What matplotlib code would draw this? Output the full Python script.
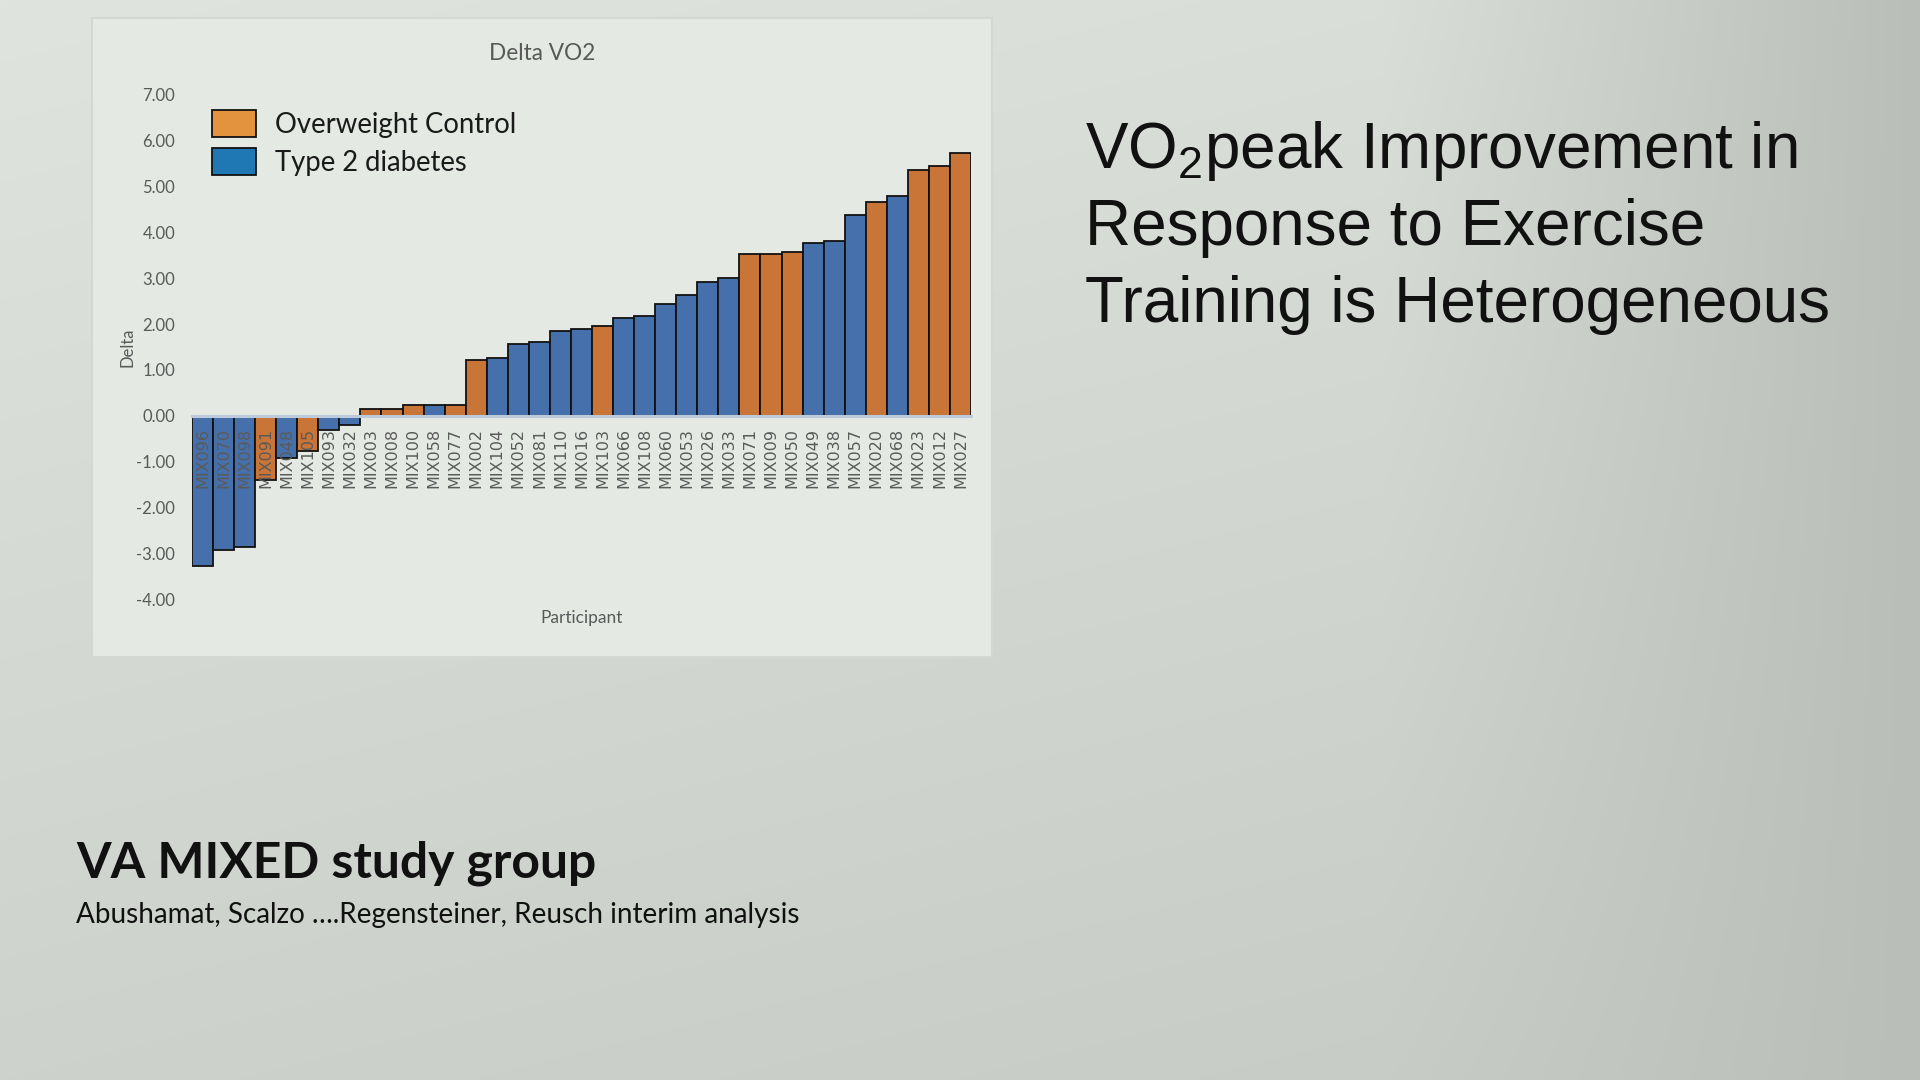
import numpy as np
import matplotlib
matplotlib.use("Agg")
import matplotlib.pyplot as plt
from matplotlib.patches import Patch, Rectangle

plt.rcParams['mathtext.fontset'] = 'custom'
plt.rcParams['mathtext.rm'] = 'Liberation Sans'

# ---------------- data ----------------
participants = ["MIX096", "MIX070", "MIX098", "MIX091", "MIX048", "MIX105", "MIX093", "MIX032",
                "MIX003", "MIX008", "MIX100", "MIX058", "MIX077", "MIX002", "MIX104", "MIX052",
                "MIX081", "MIX110", "MIX016", "MIX103", "MIX066", "MIX108", "MIX060", "MIX053",
                "MIX026", "MIX033", "MIX071", "MIX009", "MIX050", "MIX049", "MIX038", "MIX057",
                "MIX020", "MIX068", "MIX023", "MIX012", "MIX027"]
delta = [-3.29, -2.92, -2.87, -1.40, -0.92, -0.78, -0.31, -0.21,
         0.15, 0.15, 0.23, 0.23, 0.23, 1.22, 1.25, 1.57,
         1.62, 1.85, 1.90, 1.96, 2.14, 2.18, 2.43, 2.63,
         2.91, 3.00, 3.52, 3.52, 3.57, 3.77, 3.81, 4.38,
         4.66, 4.79, 5.37, 5.45, 5.74]
group = ["T2D", "T2D", "T2D", "OC", "T2D", "OC", "T2D", "T2D",
         "OC", "OC", "OC", "T2D", "OC", "OC", "T2D", "T2D",
         "T2D", "T2D", "T2D", "OC", "T2D", "T2D", "T2D", "T2D",
         "T2D", "T2D", "OC", "OC", "OC", "T2D", "T2D", "T2D",
         "OC", "T2D", "OC", "OC", "OC"]
yticks = [-4, -3, -2, -1, 0, 1, 2, 3, 4, 5, 6, 7]
legend_labels = ["Overweight Control", "Type 2 diabetes"]

bar_colors = {"OC": "#C97538", "T2D": "#4670AB"}
legend_colors = ["#E3933E", "#1F77B4"]

W, H = 1920, 1080
fig = plt.figure(figsize=(19.2, 10.8), dpi=100)

# ---------------- background gradient ----------------
bg = fig.add_axes([0, 0, 1, 1])
bg.set_zorder(-2)
yy, xx = np.mgrid[0:1:270j, 0:1:480j]
v = 223 - 8 * xx - 18 * yy - 30 * np.clip((xx - 0.72) / 0.28, 0, 1) * (1 - 0.6 * yy)
img = np.dstack([v, v + 6, v - 1]) / 255.0
bg.imshow(np.clip(img, 0, 1), extent=[0, 1, 0, 1], aspect='auto', origin='upper')
bg.set_xlim(0, 1); bg.set_ylim(0, 1)
bg.axis('off')

# chart frame
fig.patches.append(Rectangle((92 / W, 1 - 657 / H), 900 / W, 639 / H, transform=fig.transFigure,
                             facecolor="#E4E9E4", edgecolor="#D3D8D3", linewidth=1.5, zorder=-1))

# ---------------- chart ----------------
ax = fig.add_axes([192 / W, 1 - 599 / H, 779 / W, 504 / H])
ax.set_zorder(1)
ax.patch.set_alpha(0)
x = np.arange(len(participants))
ax.bar(x, delta, width=1.0, color=[bar_colors[g] for g in group],
       edgecolor="#111111", linewidth=1.3, zorder=1)
ax.set_xlim(-0.5, len(participants) - 0.5)
ax.set_ylim(-4, 7)
ax.set_yticks(yticks)
ax.set_yticklabels([f"{t:.2f}" for t in yticks], family="Lato")
ax.set_xticks(x)
ax.set_xticklabels(participants, family="DejaVu Sans")
ax.tick_params(axis='x', length=0, pad=9, labelsize=11.5, labelcolor="#5A5A5A", labelrotation=90)
ax.tick_params(axis='y', length=0, pad=12, labelsize=12, labelcolor="#595959")
ax.xaxis.set_zorder(3)
for s in ["top", "right", "left"]:
    ax.spines[s].set_visible(False)
ax.spines["bottom"].set_position(("data", 0))
ax.spines["bottom"].set_color("#BCCADA")
ax.spines["bottom"].set_linewidth(2.2)
ax.spines["bottom"].set_zorder(2.5)

ax.set_ylabel("Delta", family="Lato", fontsize=12, color="#595959")
ax.yaxis.set_label_coords((136 - 192) / 779, 0.5)
ax.set_xlabel("Participant", family="Lato", fontsize=12.5, color="#595959")
ax.xaxis.set_label_coords(0.5, (599 - 618) / 504)
ax.xaxis.label.set_va("center")

fig.text(542 / W, 1 - 53 / H, "Delta VO2", family="Lato", fontsize=16.3, color="#595959",
         ha="center", va="center")

handles = [Patch(facecolor=c, edgecolor="#111111", linewidth=1.3, label=l)
           for c, l in zip(legend_colors, legend_labels)]
ax.legend(handles=handles, loc="upper left", bbox_to_anchor=(212 / W, 1 - 110 / H),
          bbox_transform=fig.transFigure, frameon=False, prop={"family": "Lato", "size": 19.8},
          handlelength=1.6, handleheight=1.15, handletextpad=0.68, labelspacing=0.36,
          borderpad=0, borderaxespad=0, labelcolor="#1A1A1A")

# ---------------- slide texts ----------------
r = fig.canvas.get_renderer()

def fit(t, width):
    bb = t.get_window_extent(r)
    t.set_fontsize(t.get_fontsize() * width / bb.width)

title_lines = ["VO$_\\mathregular{2}$peak Improvement in", "Response to Exercise",
               "Training is Heterogeneous"]
baselines = [168, 245, 322]
objs = []
for line, b in zip(title_lines, baselines):
    objs.append(fig.text(1085 / W, 1 - b / H, line, family="Liberation Sans", fontsize=46,
                         color="#111111", ha="left", va="baseline"))
fit(objs[2], 745)
for o in objs[:2]:
    o.set_fontsize(objs[2].get_fontsize())

t1 = fig.text(76 / W, 1 - 877 / H, "VA MIXED study group", family="Lato", fontweight="bold",
              fontsize=34, color="#111111", ha="left", va="baseline")
fit(t1, 521)
t2 = fig.text(76 / W, 1 - 923 / H, "Abushamat, Scalzo ….Regensteiner, Reusch interim analysis",
              family="Lato", fontsize=19, color="#111111", ha="left", va="baseline")
fit(t2, 723)

fig.savefig("out.png", dpi=100)
